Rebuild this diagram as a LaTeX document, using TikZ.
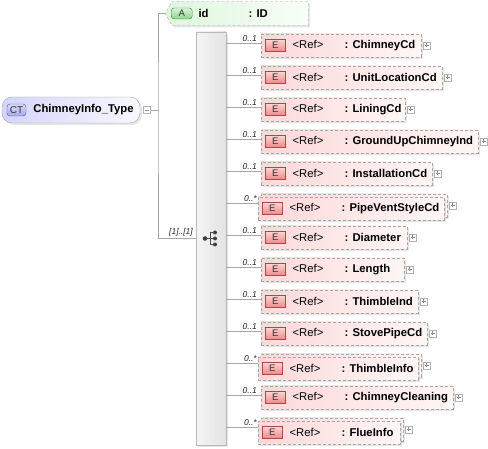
\documentclass[tikz,border=0pt]{standalone}
\usepackage{fontspec}
\setmainfont{Liberation Sans}
\usetikzlibrary{positioning,calc,shadows,shapes.symbols}

\definecolor{elemfill}{RGB}{252,216,216}
\definecolor{elemfade}{RGB}{255,246,246}
\definecolor{attrfill}{RGB}{222,246,222}
\definecolor{attrfade}{RGB}{248,254,248}
\definecolor{ctfill}{RGB}{212,212,250}
\definecolor{iconEtop}{RGB}{252,212,212}
\definecolor{iconEbot}{RGB}{236,136,136}
\definecolor{iconEline}{RGB}{168,72,72}
\definecolor{iconAtop}{RGB}{216,246,216}
\definecolor{iconAbot}{RGB}{140,208,140}
\definecolor{iconAline}{RGB}{60,128,60}
\definecolor{iconCTtop}{RGB}{218,218,252}
\definecolor{iconCTbot}{RGB}{168,168,232}
\definecolor{iconCTline}{RGB}{82,82,150}
\definecolor{edge}{RGB}{168,168,168}

\newcommand{\nm}{\fontsize{11.3}{13.5}\selectfont}
\newcommand{\reftext}[1]{\makebox[52pt][l]{<Ref>}\textbf{: #1}}

\tikzset{
  softshadow/.style={drop shadow={opacity=0.2, shadow xshift=2pt, shadow yshift=-2pt}},
  link/.style={draw=gray!70, line width=0.6pt},
  elembox/.style={draw=edge, dash pattern=on 3pt off 2pt, left color=elemfill,
    right color=elemfade, minimum height=23pt, inner sep=0pt, softshadow},
  iconE/.style={draw=iconEline, top color=iconEtop, bottom color=iconEbot,
    minimum width=20pt, minimum height=12pt, inner sep=0pt,
    font=\fontsize{9.5}{9.5}\selectfont, text=black!80},
  iconA/.style={iconE, draw=iconAline, top color=iconAtop, bottom color=iconAbot,
    rounded corners=3pt, minimum width=21pt, minimum height=11pt},
  iconCT/.style={iconE, draw=iconCTline, top color=iconCTtop, bottom color=iconCTbot,
    rounded corners=3pt, minimum width=19pt, font=\fontsize{10}{10}\selectfont},
  label/.style={inner sep=0pt, font=\nm, anchor=west},
  card/.style={inner sep=0pt, font=\fontsize{8.5}{9}\selectfont\itshape, text=black!85},
  minusbox/.style={draw=gray!60, fill=white, minimum size=7pt, inner sep=0pt,
    path picture={\draw[gray!90] ([xshift=1.5pt]path picture bounding box.west)
      -- ([xshift=-1.5pt]path picture bounding box.east);}},
  plusbox/.style={draw=gray!60, fill=white, minimum size=7pt, inner sep=0pt,
    path picture={\draw[gray!90] ([xshift=1.5pt]path picture bounding box.west)
      -- ([xshift=-1.5pt]path picture bounding box.east)
      ([yshift=1.5pt]path picture bounding box.south)
      -- ([yshift=-1.5pt]path picture bounding box.north);}},
  seqline/.style={draw=black!70, line width=1pt},
  seqdot/.style={fill=black!75, draw=none}
}

\begin{document}
\begin{tikzpicture}[x=1pt, y=-1pt]
\useasboundingbox (0,0) rectangle (488,449);

% complex type
\node[draw=edge, rounded corners=10pt, left color=ctfill, right color=ctfill!15,
      minimum width=138pt, minimum height=26pt, softshadow] (ct) at (71,110) {};
\node[iconCT, right=5pt of ct.west] (cticon) {CT};
\node[label, right=7pt of cticon] (ctname) {\textbf{ChimneyInfo\_Type}};
\node[minusbox, right=3pt of ct.east] (ctm) {};
\coordinate (fork) at (158,110);

% attribute
\node[signal, signal to=west, signal pointer angle=120, draw=edge,
      dash pattern=on 3pt off 2pt, left color=attrfill, right color=attrfade,
      minimum width=143pt, minimum height=24pt, inner sep=0pt, softshadow,
      anchor=west] (attr) at (165,13.5) {};
\node[iconA, right=6pt of attr.west] (aicon) {A};
\node[label, right=6pt of aicon] (aname) {\makebox[50pt][l]{\textbf{id}}\textbf{: ID}};

% sequence
\node[draw=gray!55, left color=gray!8, right color=gray!22, minimum width=30pt,
      minimum height=413pt, inner sep=0pt, softshadow] (bar) at (211,238.5) {};
\node[minimum size=16pt, inner sep=0pt] (seq) at (211,238.5) {};
\draw[seqline] ($(seq)+(-6,0)$) -- ($(seq)+(-1,0)$)
  ($(seq)+(-1,-6)$) -- ($(seq)+(-1,6)$);
\fill[seqdot] ($(seq)+(-6,0)$) circle (2.3pt);
\foreach \dy in {-6,0,6}{
  \draw[seqline] ($(seq)+(-1,\dy)$) -- ($(seq)+(3,\dy)$);
  \fill[seqdot] ($(seq)+(4,\dy)$) circle (2pt);
}

\draw[link] (ctm) -- (fork);
\draw[link] (attr.west) -| (fork) |- (bar.west |- seq);
\node[card, anchor=south east] (seqcard) at (193,236) {[1]..[1]};

% elements
\foreach \nme/\bw/\multi [count=\i from 0] in {ChimneyCd/160/0, UnitLocationCd/181/0,
    LiningCd/144/0, GroundUpChimneyInd/217/0, InstallationCd/171/0, PipeVentStyleCd/186/1,
    Diameter/146/0, Length/143/0, ThimbleInd/157/0, StovePipeCd/166/0, ThimbleInfo/160/1,
    ChimneyCleaning/192/0, FlueInfo/142/1}{
  \pgfmathsetmacro\yc{45.5+32*\i}
  \ifnum\multi=1
    \node[elembox, minimum width=\bw pt, anchor=west] (e\i) at (261,\yc) {};
    \node[elembox, minimum width=\bw pt, anchor=west] (f\i) at (258,{\yc+3}) {};
  \else
    \node[elembox, minimum width=\bw pt, anchor=west, alias=e\i] (f\i) at (261,\yc) {};
  \fi
  \node[iconE, right=4pt of f\i.west] (i\i) {E};
  \node[label, right=7pt of i\i] (t\i) {\reftext{\nme}};
  \node[plusbox, right=1.5pt of e\i.east] (x\i) {};
  \coordinate (p\i) at ($(f\i.west)+(0,{-2-3*\multi})$);
  \draw[link] (bar.east |- p\i) -- (p\i);
  \node[card, anchor=south east] (c\i) at ($(p\i -| 257,0)+(0,-1.5)$)
    {\ifnum\multi=1 0..*\else 0..1\fi};
}
\end{tikzpicture}
\end{document}
